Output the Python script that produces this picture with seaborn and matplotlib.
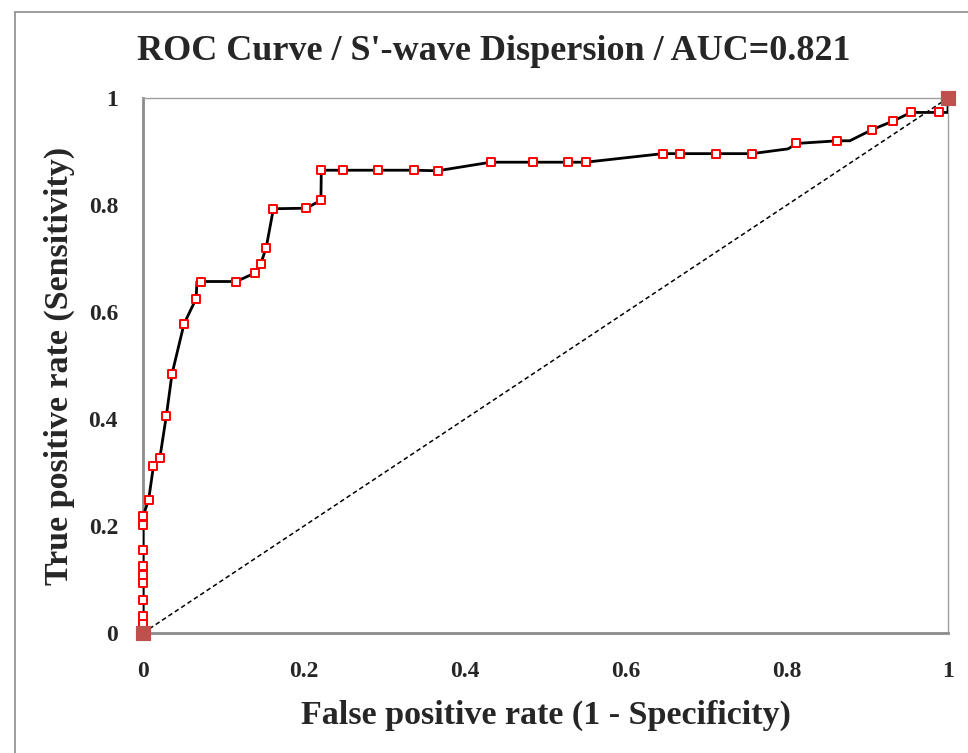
import matplotlib
matplotlib.use('Agg')
import matplotlib.pyplot as plt
import seaborn as sns
import pandas as pd
from matplotlib.patches import Rectangle

# ROC points (fpr, tpr); is_threshold marks the points drawn with a marker
fpr = [0.0, 0.0, 0.0, 0.0, 0.0, 0.0, 0.0, 0.0, 0.0, 0.0,
       0.007, 0.013, 0.021, 0.029, 0.036, 0.051, 0.066, 0.067, 0.072, 0.116,
       0.139, 0.146, 0.153, 0.162, 0.203, 0.221, 0.2215, 0.248, 0.292, 0.337,
       0.366, 0.432, 0.484, 0.528, 0.550, 0.6456, 0.6675, 0.712, 0.7565, 0.8016,
       0.8116, 0.8625, 0.878, 0.906, 0.932, 0.954, 0.989, 1.0, 1.0]
tpr = [0.0, 0.016, 0.032, 0.062, 0.093, 0.109, 0.125, 0.156, 0.202, 0.218,
       0.249, 0.312, 0.328, 0.406, 0.484, 0.578, 0.625, 0.657, 0.657, 0.657,
       0.673, 0.689, 0.720, 0.793, 0.794, 0.809, 0.865, 0.865, 0.865, 0.865,
       0.864, 0.880, 0.880, 0.880, 0.880, 0.896, 0.896, 0.896, 0.896, 0.905,
       0.915, 0.920, 0.920, 0.941, 0.957, 0.973, 0.973, 0.973, 1.0]
is_threshold = [False, True, True, True, True, True, True, True, True, True,
                True, True, True, True, True, True, True, False, True, True,
                True, True, True, True, True, True, True, True, True, True,
                True, True, True, True, True, True, True, True, True, False,
                True, True, False, True, True, True, True, False, False]
end_fpr = [0.0, 1.0]
end_tpr = [0.0, 1.0]
ticks = [0, 0.2, 0.4, 0.6, 0.8, 1]
tick_labels = ['0', '0.2', '0.4', '0.6', '0.8', '1']

roc = pd.DataFrame({'fpr': fpr, 'tpr': tpr, 'mark': is_threshold})
ends = pd.DataFrame({'fpr': end_fpr, 'tpr': end_tpr})

sns.set_theme(style="white")
plt.rcParams['font.family'] = ['Liberation Serif', 'DejaVu Serif']
plt.rcParams['font.weight'] = 'bold'

fig = plt.figure(figsize=(9.68, 7.53), dpi=100)
ax = fig.add_axes([143 / 968, 1 - 633 / 753, 805 / 968, 535 / 753])

# outer chart border
fig.patches.append(Rectangle((15 / 968, -0.1), 1.2, 1 - 12 / 753 + 0.1,
                             transform=fig.transFigure, fill=False,
                             edgecolor='#8c8c8c', linewidth=1.2))

# diagonal reference line
sns.lineplot(data=ends, x='fpr', y='tpr', ax=ax, color='black',
             linestyle=(0, (3, 2)), linewidth=1.1, zorder=2)

sns.lineplot(data=roc, x='fpr', y='tpr', ax=ax, sort=False, estimator=None,
             color='black', linewidth=2.0, zorder=3)
sns.scatterplot(data=roc[roc['mark']], x='fpr', y='tpr', ax=ax, marker='s',
                s=28, facecolor='white', edgecolor='#ff0000', linewidth=1.4,
                zorder=4, clip_on=False)
sns.scatterplot(data=ends, x='fpr', y='tpr', ax=ax, marker='s', s=110,
                color='#c0504d', edgecolor='#c0504d', zorder=5, clip_on=False)

ax.set_xlim(0, 1)
ax.set_ylim(0, 1)
ax.set_xticks(ticks)
ax.set_xticklabels(tick_labels)
ax.set_yticks(ticks)
ax.set_yticklabels(tick_labels)
ax.tick_params(axis='x', direction='in', length=9, width=1.2, color='#8c8c8c',
               labelsize=17, pad=20)
ax.tick_params(axis='y', direction='inout', length=14, width=1.2, color='#8c8c8c',
               labelsize=17, pad=11)
for lbl in ax.get_xticklabels() + ax.get_yticklabels():
    lbl.set_fontweight('bold')

for side in ['left', 'bottom']:
    ax.spines[side].set_color('#8c8c8c')
    ax.spines[side].set_linewidth(2.0)
for side in ['top', 'right']:
    ax.spines[side].set_color('#a0a0a0')
    ax.spines[side].set_linewidth(1.0)

ax.set_xlabel('False positive rate (1 - Specificity)', fontsize=24.5,
              fontweight='bold', labelpad=13)
ax.set_ylabel('True positive rate (Sensitivity)', fontsize=24.5,
              fontweight='bold', labelpad=10)
fig.text(494 / 968, 1 - 60 / 753, "ROC Curve / S'-wave Dispersion / AUC=0.821",
         fontsize=26, fontweight='bold', ha='center', va='baseline')

fig.savefig('out.png', dpi=100)
